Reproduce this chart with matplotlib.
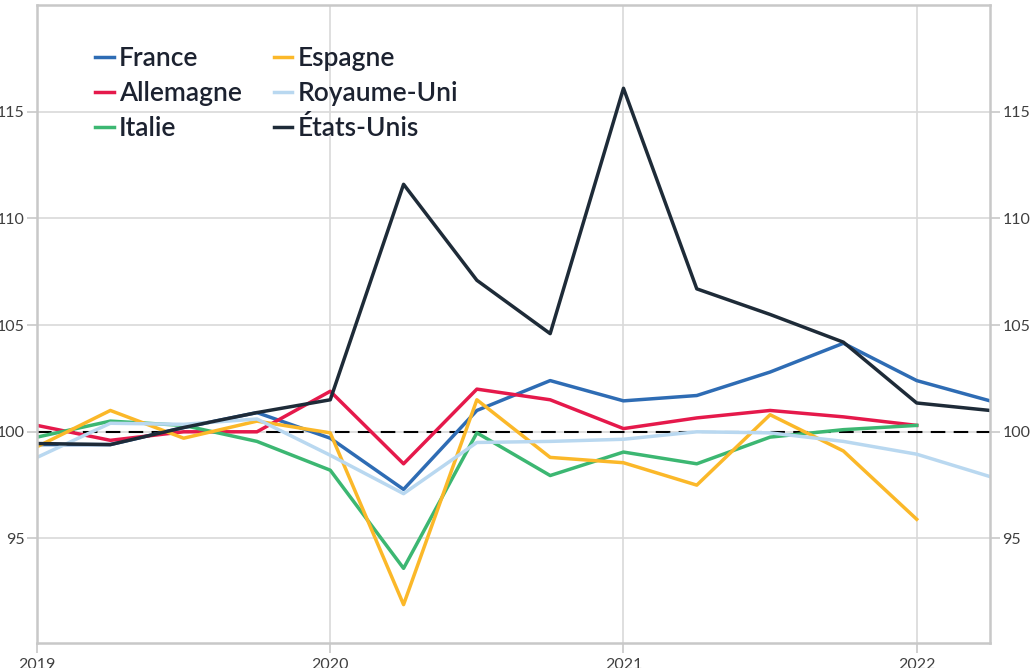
import matplotlib.pyplot as plt
import numpy as np

plt.rcParams['font.family'] = ['Lato', 'DejaVu Sans']

# trimestres 2019T1 -> 2022T2
quarters = np.arange(2019.0, 2022.26, 0.25)

france = [99.4, 99.4, 100.2, 100.9, 99.7, 97.3, 101.0, 102.4, 101.45, 101.7, 102.8, 104.15, 102.4, 101.45]
allemagne = [100.3, 99.6, 100.0, 100.0, 101.9, 98.5, 102.0, 101.5, 100.15, 100.65, 101.0, 100.7, 100.3]
italie = [99.75, 100.5, 100.3, 99.55, 98.2, 93.6, 99.95, 97.95, 99.05, 98.5, 99.75, 100.1, 100.3]
espagne = [99.3, 101.0, 99.7, 100.5, 99.95, 91.9, 101.5, 98.8, 98.55, 97.5, 100.8, 99.1, 95.9]
royaume_uni = [98.8, 100.4, 100.35, 100.6, 98.9, 97.1, 99.5, 99.55, 99.65, 100.0, 99.95, 99.55, 98.95, 97.9]
etats_unis = [99.45, 99.4, 100.2, 100.9, 101.5, 111.6, 107.1, 104.6, 116.1, 106.7, 105.5, 104.2, 101.35, 101.0]

series = [
    ('France', france, '#2e6cb4'),
    ('Allemagne', allemagne, '#e5194b'),
    ('Italie', italie, '#3cb772'),
    ('Espagne', espagne, '#fbb829'),
    ('Royaume-Uni', royaume_uni, '#b9d8f0'),
    ('États-Unis', etats_unis, '#1e2b38'),
]

fig = plt.figure(figsize=(10.32, 6.68), dpi=100)
ax = fig.add_axes([0.0359, 0.0374, 0.9234, 0.955])

for name, vals, col in series:
    ax.plot(quarters[:len(vals)], vals, color=col, lw=2.5, label=name)

ax.axhline(100, color='black', lw=1.5, ls=(0, (7, 4)), zorder=1)

ax.set_xlim(2019.0, 2022.25)
ax.set_ylim(90.1, 120)
ax.set_xticks([2019, 2020, 2021, 2022])
ax.set_yticks([95, 100, 105, 110, 115])
ax.grid(True, color='#d9d9d9', lw=1.2, zorder=0)
ax.set_axisbelow(True)

for s in ax.spines.values():
    s.set_color('#c8c8c8')
    s.set_linewidth(1.8)

ax.tick_params(axis='both', colors='#c8c8c8', labelcolor='#3f3f3f', labelsize=11.5, length=7, width=1.2)
ax.tick_params(axis='y', right=True, labelright=True, pad=2)

leg = ax.legend(loc='upper left', bbox_to_anchor=(0.05, 0.952), ncol=2, frameon=False,
                prop={'size': 19, 'weight': 'semibold'}, handlelength=0.7, handletextpad=0.2,
                columnspacing=1.2, labelspacing=0.38, borderaxespad=0)
for t in leg.get_texts():
    t.set_color('#1c2230')

fig.savefig('out.png', dpi=100)
